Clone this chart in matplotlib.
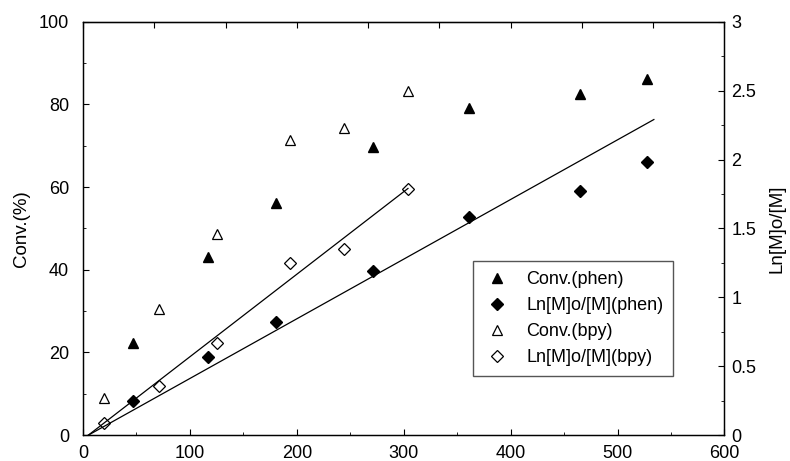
import numpy as np
import matplotlib.pyplot as plt
from matplotlib.ticker import MultipleLocator

plt.rcParams['font.family'] = ['Liberation Sans', 'DejaVu Sans']

# phen series
t_phen = [47, 117, 181, 271, 361, 465, 528]
conv_phen = [22.4, 43.1, 56.1, 69.6, 79.2, 82.4, 86.1]
ln_phen = [0.25, 0.57, 0.82, 1.19, 1.58, 1.77, 1.98]

# bpy series
t_bpy = [20, 71, 125, 194, 244, 304]
conv_bpy = [8.9, 30.4, 48.7, 71.5, 74.2, 83.2]
ln_bpy = [0.09, 0.36, 0.67, 1.25, 1.35, 1.785]

# fitted lines
fit_x_phen = [5, 534]
fit_y_phen = [0.0, 2.29]
fit_x_bpy = [5, 304]
fit_y_bpy = [0.0, 1.79]

fig = plt.figure(figsize=(7.9, 4.61), dpi=100)
ax = fig.add_axes([0.105, 0.056, 0.812, 0.897])
ax2 = ax.twinx()

ax.plot(t_phen, conv_phen, '^', color='black', ms=7.5, label='Conv.(phen)')
ax2.plot(t_phen, ln_phen, 'D', color='black', ms=6, label='Ln[M]o/[M](phen)')
ax.plot(t_bpy, conv_bpy, '^', mfc='white', mec='black', mew=0.9, ms=7.5, label='Conv.(bpy)')
ax2.plot(t_bpy, ln_bpy, 'D', mfc='white', mec='black', mew=0.9, ms=6, label='Ln[M]o/[M](bpy)')
ax2.plot(fit_x_phen, fit_y_phen, '-', color='black', lw=0.9)
ax2.plot(fit_x_bpy, fit_y_bpy, '-', color='black', lw=0.9)

ax.set_xlim(0, 600)
ax.set_ylim(0, 100)
ax2.set_ylim(0, 3)

ax.xaxis.set_major_locator(MultipleLocator(100))
ax.xaxis.set_minor_locator(MultipleLocator(50))
ax.yaxis.set_major_locator(MultipleLocator(20))
ax.yaxis.set_minor_locator(MultipleLocator(10))
ax2.yaxis.set_minor_locator(MultipleLocator(0.25))
ax2.set_yticks([0, 0.5, 1, 1.5, 2, 2.5, 3])
ax2.set_yticklabels(['0', '0.5', '1', '1.5', '2', '2.5', '3'])

ax.tick_params(which='both', direction='in', labelsize=13, top=False)
ax.tick_params(which='major', length=4, width=0.8)
ax.tick_params(which='minor', length=2, width=0.6)
ax.tick_params(axis='y', pad=10)
ax.tick_params(axis='x', pad=7)
ax2.tick_params(which='both', direction='in', labelsize=13, pad=5)
ax2.tick_params(which='major', length=4, width=0.8)
ax2.tick_params(which='minor', length=2, width=0.6)

top = ax.secondary_xaxis('top')
top.set_xticks(np.linspace(0, 600, 10))
top.tick_params(direction='in', length=4, width=0.8, labeltop=False)

for a in (ax, ax2):
    for s in a.spines.values():
        s.set_linewidth(0.9)

ax.set_ylabel('Conv.(%)', fontsize=13.5, labelpad=6)
ax2.set_ylabel('Ln[M]o/[M]', fontsize=13.5, labelpad=9)

h1, l1 = ax.get_legend_handles_labels()
h2, l2 = ax2.get_legend_handles_labels()
handles = [h1[0], h2[0], h1[1], h2[1]]
labels = [l1[0], l2[0], l1[1], l2[1]]
ax2.legend(handles, labels, loc='lower left', bbox_to_anchor=(0.608, 0.143),
           fontsize=13, frameon=True, fancybox=False, edgecolor='#555555',
           framealpha=1, handletextpad=0.8, borderpad=0.55, labelspacing=0.5,
           handlelength=1.6, borderaxespad=0)

fig.savefig('out.png', dpi=100)
